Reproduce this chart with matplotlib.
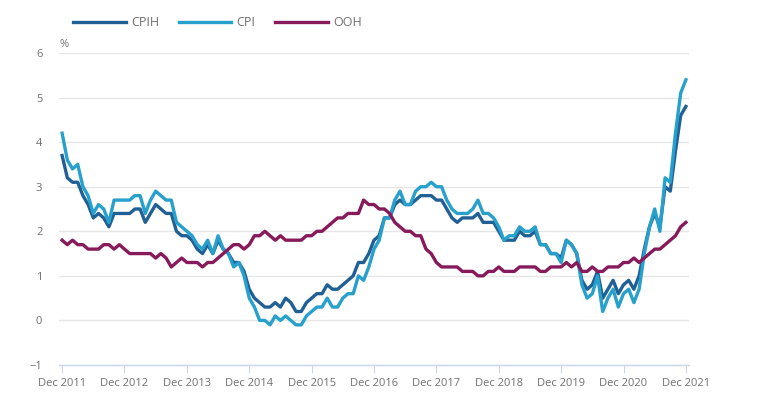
import matplotlib
matplotlib.use('Agg')
import matplotlib.pyplot as plt
import numpy as np

plt.rcParams['font.family'] = ['Open Sans', 'DejaVu Sans']

# monthly 12-month rates, Dec 2011 .. Dec 2021
cpih = [3.7,
        3.2, 3.1, 3.1, 2.8, 2.6, 2.3, 2.4, 2.3, 2.1, 2.4, 2.4, 2.4,
        2.4, 2.5, 2.5, 2.2, 2.4, 2.6, 2.5, 2.4, 2.4, 2.0, 1.9, 1.9,
        1.8, 1.6, 1.5, 1.7, 1.5, 1.8, 1.6, 1.5, 1.3, 1.3, 1.1, 0.7,
        0.5, 0.4, 0.3, 0.3, 0.4, 0.3, 0.5, 0.4, 0.2, 0.2, 0.4, 0.5,
        0.6, 0.6, 0.8, 0.7, 0.7, 0.8, 0.9, 1.0, 1.3, 1.3, 1.5, 1.8,
        1.9, 2.3, 2.3, 2.6, 2.7, 2.6, 2.6, 2.7, 2.8, 2.8, 2.8, 2.7,
        2.7, 2.5, 2.3, 2.2, 2.3, 2.3, 2.3, 2.4, 2.2, 2.2, 2.2, 2.0,
        1.8, 1.8, 1.8, 2.0, 1.9, 1.9, 2.0, 1.7, 1.7, 1.5, 1.5, 1.4,
        1.8, 1.7, 1.5, 0.9, 0.7, 0.8, 1.1, 0.5, 0.7, 0.9, 0.6, 0.8,
        0.9, 0.7, 1.0, 1.6, 2.1, 2.4, 2.1, 3.0, 2.9, 3.8, 4.6, 4.8]

cpi = [4.2,
       3.6, 3.4, 3.5, 3.0, 2.8, 2.4, 2.6, 2.5, 2.2, 2.7, 2.7, 2.7,
       2.7, 2.8, 2.8, 2.4, 2.7, 2.9, 2.8, 2.7, 2.7, 2.2, 2.1, 2.0,
       1.9, 1.7, 1.6, 1.8, 1.5, 1.9, 1.6, 1.5, 1.2, 1.3, 1.0, 0.5,
       0.3, 0.0, 0.0, -0.1, 0.1, 0.0, 0.1, 0.0, -0.1, -0.1, 0.1, 0.2,
       0.3, 0.3, 0.5, 0.3, 0.3, 0.5, 0.6, 0.6, 1.0, 0.9, 1.2, 1.6,
       1.8, 2.3, 2.3, 2.7, 2.9, 2.6, 2.6, 2.9, 3.0, 3.0, 3.1, 3.0,
       3.0, 2.7, 2.5, 2.4, 2.4, 2.4, 2.5, 2.7, 2.4, 2.4, 2.3, 2.1,
       1.8, 1.9, 1.9, 2.1, 2.0, 2.0, 2.1, 1.7, 1.7, 1.5, 1.5, 1.3,
       1.8, 1.7, 1.5, 0.8, 0.5, 0.6, 1.0, 0.2, 0.5, 0.7, 0.3, 0.6,
       0.7, 0.4, 0.7, 1.5, 2.1, 2.5, 2.0, 3.2, 3.1, 4.2, 5.1, 5.4]

ooh = [1.8,
       1.7, 1.8, 1.7, 1.7, 1.6, 1.6, 1.6, 1.7, 1.7, 1.6, 1.7, 1.6,
       1.5, 1.5, 1.5, 1.5, 1.5, 1.4, 1.5, 1.4, 1.2, 1.3, 1.4, 1.3,
       1.3, 1.3, 1.2, 1.3, 1.3, 1.4, 1.5, 1.6, 1.7, 1.7, 1.6, 1.7,
       1.9, 1.9, 2.0, 1.9, 1.8, 1.9, 1.8, 1.8, 1.8, 1.8, 1.9, 1.9,
       2.0, 2.0, 2.1, 2.2, 2.3, 2.3, 2.4, 2.4, 2.4, 2.7, 2.6, 2.6,
       2.5, 2.5, 2.4, 2.2, 2.1, 2.0, 2.0, 1.9, 1.9, 1.6, 1.5, 1.3,
       1.2, 1.2, 1.2, 1.2, 1.1, 1.1, 1.1, 1.0, 1.0, 1.1, 1.1, 1.2,
       1.1, 1.1, 1.1, 1.2, 1.2, 1.2, 1.2, 1.1, 1.1, 1.2, 1.2, 1.2,
       1.3, 1.2, 1.3, 1.1, 1.1, 1.2, 1.1, 1.1, 1.2, 1.2, 1.2, 1.3,
       1.3, 1.4, 1.3, 1.4, 1.5, 1.6, 1.6, 1.7, 1.8, 1.9, 2.1, 2.2]

years = list(range(2011, 2022))
tick_labels = ['Dec %d' % y for y in years]

x = np.arange(len(cpih))

fig = plt.figure(figsize=(7.66, 4.18), dpi=100)
ax = fig.add_axes([59 / 766, 53 / 418, 630 / 766, 312 / 418])

ax.plot(x, cpih, color='#206095', lw=2.4, label='CPIH', zorder=3)
ax.plot(x, cpi, color='#27a0cc', lw=2.4, label='CPI', zorder=4)
ax.plot(x, ooh, color='#871a5b', lw=2.4, label='OOH', zorder=5)

ax.set_xlim(-0.6, 120.6)
ax.set_ylim(-1, 6)
ax.set_yticks(range(-1, 7))
ax.set_xticks(np.arange(0, 121, 12))
ax.set_xticklabels(tick_labels)

for s in ['top', 'right', 'left']:
    ax.spines[s].set_visible(False)
ax.spines['bottom'].set_color('#ccd6eb')
ax.spines['bottom'].set_linewidth(1)

ax.grid(axis='y', color='#e6e6e6', lw=1)
ax.set_axisbelow(True)
ax.tick_params(axis='y', length=0, pad=12, labelsize=8, labelcolor='#707070')
ax.tick_params(axis='x', length=6, color='#ccd6eb', pad=3, labelsize=8, labelcolor='#707070')

ax.text(-0.6, 6.06, '%', fontsize=8, color='#707070', ha='left', va='bottom')

fig.legend(loc='center left', bbox_to_anchor=(67 / 766, 1 - 23 / 418), ncol=3,
           frameon=False, fontsize=9, handlelength=4.2, handletextpad=0.4,
           columnspacing=1.6, borderpad=0, labelcolor='#707070')

fig.savefig('out.png', dpi=100)
